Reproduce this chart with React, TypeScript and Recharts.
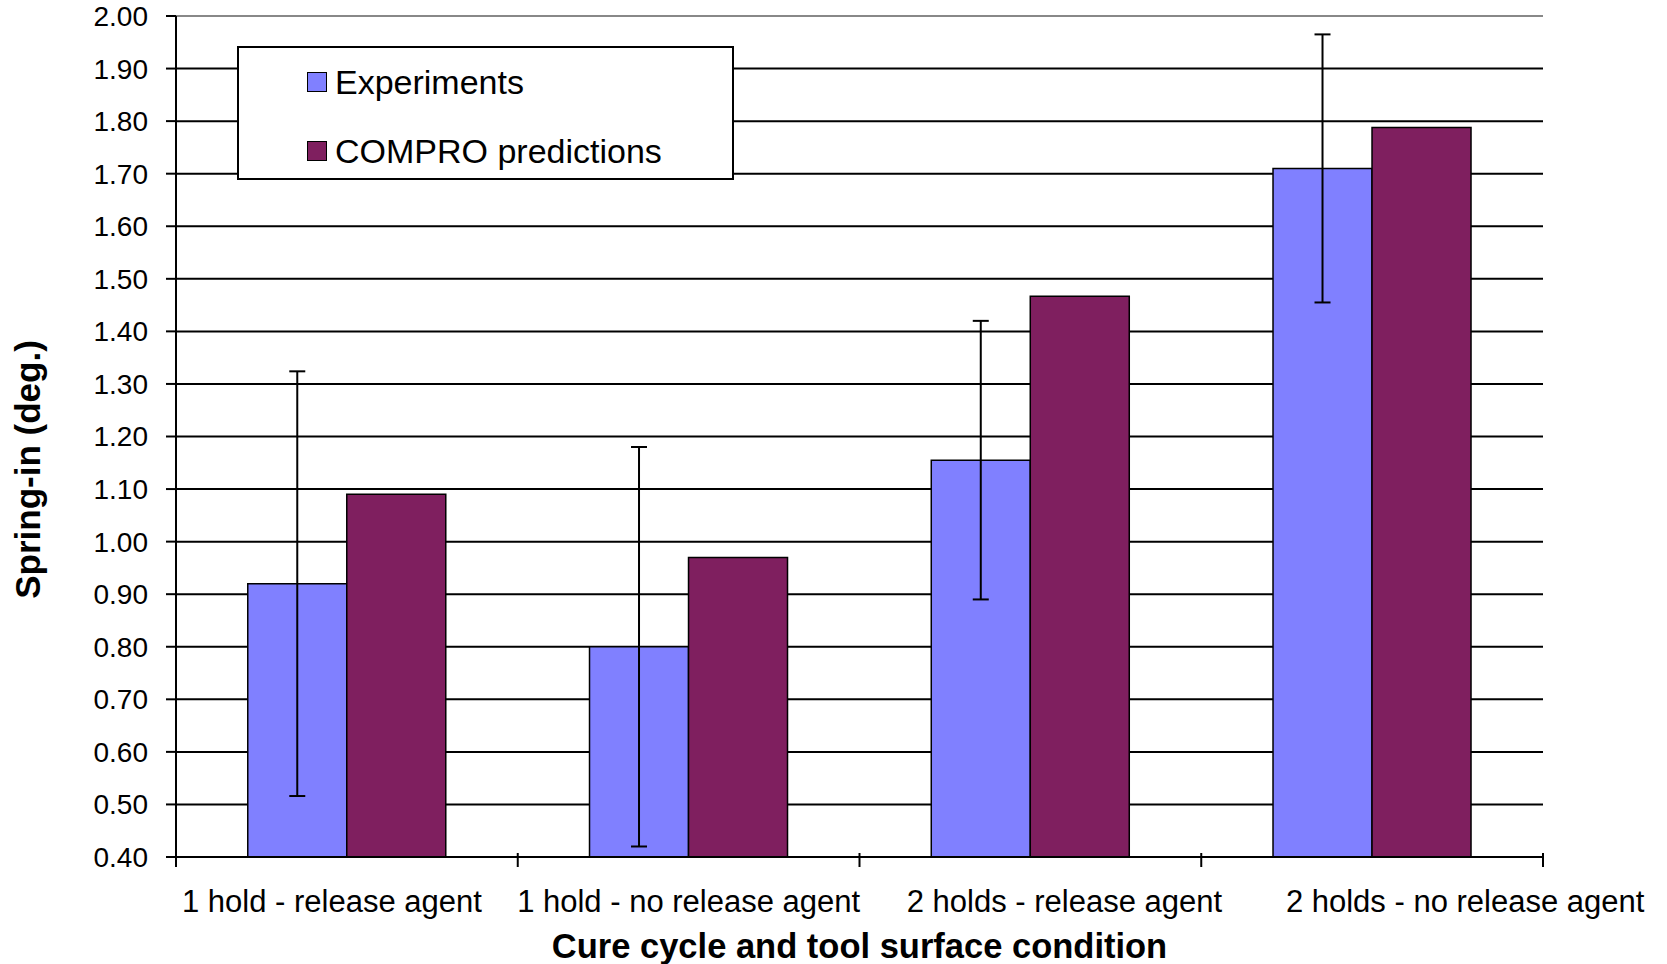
import React from 'react';
import {
  BarChart,
  Bar,
  XAxis,
  YAxis,
  CartesianGrid,
  ErrorBar,
  Legend,
  Label,
  ReferenceLine,
} from 'recharts';

const categories = [
  '1 hold - release agent',
  '1 hold - no release agent',
  '2 holds - release agent',
  '2 holds - no release agent',
];
const seriesNames = ['Experiments', 'COMPRO predictions'];
const experiments = [0.92, 0.8, 1.155, 1.71];
const experimentErr = [0.404, 0.38, 0.265, 0.255];
const comproPredictions = [1.09, 0.97, 1.467, 1.788];
const yTicks = [0.4, 0.5, 0.6, 0.7, 0.8, 0.9, 1.0, 1.1, 1.2, 1.3, 1.4, 1.5, 1.6, 1.7, 1.8, 1.9, 2.0];

const data = categories.map((name, i) => ({
  name,
  experiments: experiments[i],
  err: experimentErr[i],
  compro: comproPredictions[i],
}));

const FONT = '"Liberation Sans", Arial, Helvetica, sans-serif';
const BLUE = '#8080FF';
const PLUM = '#7F1F5F';

// the original's category labels are not quite centred under their groups
const LABEL_NUDGE = [-15, 0, 34, 93];

const CategoryTick = (props: any) => {
  const { x, y, payload, index, width, visibleTicksCount } = props;
  const n = visibleTicksCount || categories.length;
  const half = width / n / 2;
  const last = index === n - 1;
  return (
    <g>
      {/* tick marks sit on the category boundaries, as in the original */}
      <line x1={x - half} x2={x - half} y1={y - 4} y2={y + 10} stroke="#000" strokeWidth={2} />
      {last && (
        <line x1={x + half} x2={x + half} y1={y - 4} y2={y + 10} stroke="#000" strokeWidth={2} />
      )}
      <text
        x={x + (LABEL_NUDGE[index] || 0)}
        y={y}
        dy={55}
        textAnchor="middle"
        fontSize={31}
        fontFamily={FONT}
        fill="#000"
      >
        {payload.value}
      </text>
    </g>
  );
};

const renderXTitle = (p: any) => {
  const vb = p.viewBox;
  return (
    <text
      x={vb.x + vb.width / 2}
      y={vb.y + 101}
      textAnchor="middle"
      fontSize={34.5}
      fontWeight="bold"
      fontFamily={FONT}
      fill="#000"
    >
      Cure cycle and tool surface condition
    </text>
  );
};

const renderYTitle = (p: any) => {
  const vb = p.viewBox;
  const cx = 40;
  const cy = vb.y + vb.height / 2 + 33;
  return (
    <text
      x={cx}
      y={cy}
      transform={`rotate(-90, ${cx}, ${cy})`}
      textAnchor="middle"
      fontSize={35}
      fontWeight="bold"
      fontFamily={FONT}
      fill="#000"
    >
      Spring-in (deg.)
    </text>
  );
};

const renderLegend = (props: any) => {
  const items = [...(props.payload || [])].sort(
    (a: any, b: any) => seriesNames.indexOf(a.value) - seriesNames.indexOf(b.value)
  );
  return (
    <div
      style={{
        position: 'relative',
        width: 497,
        height: 134,
        boxSizing: 'border-box',
        border: '2px solid #000',
        background: '#fff',
        fontFamily: FONT,
        fontSize: 34,
        color: '#000',
      }}
    >
      {items.map((item: any, i: number) => (
        <div
          key={item.value}
          style={{
            position: 'absolute',
            left: 68,
            top: 14 + i * 69,
            height: 40,
            display: 'flex',
            alignItems: 'center',
            whiteSpace: 'nowrap',
          }}
        >
          <span
            style={{
              display: 'inline-block',
              width: 20,
              height: 20,
              boxSizing: 'border-box',
              border: '1.5px solid #000',
              background: item.color,
              marginRight: 8,
            }}
          />
          <span style={{ lineHeight: '40px' }}>{item.value}</span>
        </div>
      ))}
    </div>
  );
};

export default function App() {
  return (
    <div style={{ position: 'absolute', left: 0, top: 0, background: '#fff' }}>
      <BarChart
        width={1667}
        height={964}
        data={data}
        margin={{ top: 16, right: 124, left: 0, bottom: 0 }}
        barCategoryGap="21%"
        barGap={0}
      >
        <CartesianGrid
          xAxisId="cat"
          yAxisId="left"
          vertical={false}
          stroke="#000"
          strokeWidth={2}
        />
        <XAxis
          xAxisId="cat"
          dataKey="name"
          height={107}
          interval={0}
          tickLine={false}
          tickSize={0}
          tickMargin={0}
          axisLine={{ stroke: '#000', strokeWidth: 2 }}
          tick={<CategoryTick />}
        >
          <Label content={renderXTitle} />
        </XAxis>
        <YAxis
          yAxisId="left"
          width={176}
          domain={[0.4, 2]}
          ticks={yTicks}
          interval={0}
          allowDataOverflow
          tickFormatter={(v: number) => v.toFixed(2)}
          tickSize={10}
          tickMargin={18}
          axisLine={{ stroke: '#000', strokeWidth: 2 }}
          tickLine={{ stroke: '#000', strokeWidth: 2 }}
          tick={{ fontSize: 28, fontFamily: FONT, fill: '#000' }}
        >
          <Label content={renderYTitle} />
        </YAxis>
        <YAxis
          yAxisId="right"
          orientation="right"
          width={0}
          domain={[0.4, 2]}
          allowDataOverflow
          tick={false}
          tickLine={false}
          axisLine={{ stroke: '#888', strokeWidth: 2 }}
        />
        <ReferenceLine xAxisId="cat" yAxisId="left" y={2} stroke="#888" strokeWidth={2} />
        <Legend
          content={renderLegend}
          layout="horizontal"
          verticalAlign="middle"
          align="center"
          wrapperStyle={{ left: 237, top: 46, width: 497, height: 134 }}
        />
        <Bar
          xAxisId="cat"
          yAxisId="left"
          dataKey="experiments"
          name={seriesNames[0]}
          fill={BLUE}
          stroke="#000"
          strokeWidth={1.5}
          isAnimationActive={false}
        >
          <ErrorBar dataKey="err" width={8} stroke="#000" strokeWidth={2} direction="y" />
        </Bar>
        <Bar
          xAxisId="cat"
          yAxisId="left"
          dataKey="compro"
          name={seriesNames[1]}
          fill={PLUM}
          stroke="#000"
          strokeWidth={1.5}
          isAnimationActive={false}
        />
      </BarChart>
    </div>
  );
}
